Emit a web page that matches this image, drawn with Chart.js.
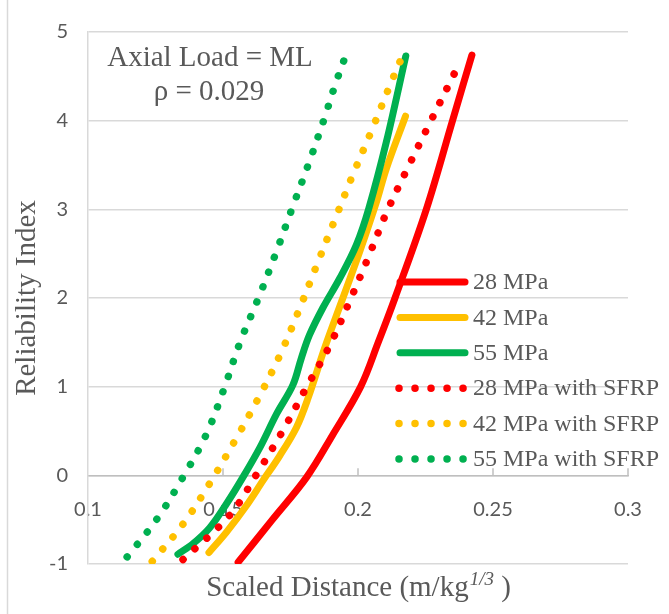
<!DOCTYPE html>
<html>
<head>
<meta charset="utf-8">
<script src="https://cdn.jsdelivr.net/npm/chart.js@4.4.1/dist/chart.umd.min.js"></script>
<style>
  html, body { margin: 0; padding: 0; background: #fff; }
  #wrap { width: 669px; height: 614px; }
</style>
</head>
<body>
<div id="wrap"><canvas id="myChart" width="669" height="614"></canvas></div>
<script>
// series labels and colours
const seriesNames = ['28 MPa', '42 MPa', '55 MPa', '28 MPa with SFRP', '42 MPa with SFRP', '55 MPa with SFRP'];
const seriesColors = ['#ff0000', '#ffc000', '#00b050', '#ff0000', '#ffc000', '#00b050'];

// scaled distance (x) vs reliability index (y)
const mpa28X = [0.1556, 0.1683, 0.1810, 0.1905, 0.2010, 0.2075, 0.2137, 0.2253, 0.2350, 0.2422];
const mpa28Y = [-0.98, -0.50, -0.02, 0.45, 1.0, 1.5, 2.0, 3.0, 4.0, 4.74];

const mpa42X = [0.1448, 0.1513, 0.1587, 0.1648, 0.1710, 0.1772, 0.1815, 0.1877, 0.1944, 0.2006, 0.2068, 0.2105, 0.2176];
const mpa42Y = [-0.87, -0.64, -0.34, -0.06, 0.22, 0.54, 0.87, 1.44, 2.0, 2.52, 3.08, 3.46, 4.05];

const mpa55X = [0.1333, 0.1389, 0.1451, 0.1513, 0.1574, 0.1636, 0.1698, 0.1759, 0.1790, 0.1820, 0.1870, 0.1932, 0.1994, 0.2040, 0.2105, 0.2177];
const mpa55Y = [-0.89, -0.77, -0.59, -0.32, -0.02, 0.31, 0.69, 1.02, 1.32, 1.58, 1.89, 2.22, 2.6, 3.01, 3.76, 4.73];

const sfrp28X = [0.1352, 0.1525, 0.1626, 0.1719, 0.1805, 0.1893, 0.1967, 0.2037, 0.2105, 0.2183, 0.2262, 0.2342, 0.2368];
const sfrp28Y = [-0.95, -0.45, 0.02, 0.49, 0.97, 1.45, 1.95, 2.45, 2.96, 3.46, 3.95, 4.44, 4.60];

const sfrp42X = [0.1238, 0.1352, 0.1451, 0.1544, 0.1631, 0.1710, 0.1781, 0.1847, 0.1914, 0.1981, 0.2052, 0.2120, 0.2166];
const sfrp42Y = [-0.97, -0.55, -0.09, 0.39, 0.87, 1.35, 1.86, 2.37, 2.88, 3.39, 3.9, 4.41, 4.74];

const sfrp55X = [0.1145, 0.1256, 0.1352, 0.1438, 0.1503, 0.1562, 0.1630, 0.1695, 0.1757, 0.1819, 0.1878, 0.1915, 0.1955];
const sfrp55Y = [-0.92, -0.49, -0.02, 0.46, 0.97, 1.49, 1.99, 2.5, 3.02, 3.53, 4.05, 4.4, 4.74];

const xTicksMin = 0.1, xTicksMax = 0.3, xStep = 0.05;
const yTicksMin = -1, yTicksMax = 5, yStep = 1;

const allX = [mpa28X, mpa42X, mpa55X, sfrp28X, sfrp42X, sfrp55X];
const allY = [mpa28Y, mpa42Y, mpa55Y, sfrp28Y, sfrp42Y, sfrp55Y];

const grey = '#595959';
const serif = '"Liberation Serif", "Times New Roman", serif';
const DOT = [0.01, 16];

const datasets = seriesNames.map((name, i) => {
  const dotted = i >= 3;
  return {
    label: name,
    data: allX[i].map((x, k) => ({ x: x, y: allY[i][k] })),
    showLine: true,
    borderColor: seriesColors[i],
    backgroundColor: seriesColors[i],
    borderWidth: dotted ? 7.5 : 7,
    borderDash: dotted ? DOT : [],
    borderCapStyle: 'round',
    borderJoinStyle: 'round',
    pointRadius: 0,
    tension: 0.35,
    order: 6 - i
  };
});

// titles, annotation, legend and border drawn on top
const extras = {
  id: 'extras',
  afterDraw(chart) {
    const ctx = chart.ctx;
    const xs = chart.scales.x, ys = chart.scales.y;
    const area = chart.chartArea;
    ctx.save();

    // outer border on the left
    ctx.strokeStyle = '#d9d9d9';
    ctx.lineWidth = 1.5;
    ctx.beginPath();
    ctx.moveTo(7.5, 0);
    ctx.lineTo(7.5, 614);
    ctx.stroke();

    // x tick marks on the axis at y = 0
    const y0 = ys.getPixelForValue(0);
    ctx.strokeStyle = '#bfbfbf';
    xs.ticks.forEach((t, i) => {
      if (i === 0) return;
      const px = xs.getPixelForValue(t.value);
      ctx.beginPath();
      ctx.moveTo(px, y0);
      ctx.lineTo(px, y0 - 7);
      ctx.stroke();
    });

    ctx.fillStyle = grey;
    ctx.textAlign = 'center';
    ctx.textBaseline = 'middle';
    ctx.font = '29px ' + serif;
    ctx.fillText('Axial Load = ML', 210, 58);
    ctx.fillText('\u03c1 = 0.029', 209, 92);

    // y title
    ctx.save();
    ctx.translate(27, 298);
    ctx.rotate(-Math.PI / 2);
    ctx.fillText('Reliability Index', 0, 0);
    ctx.restore();

    // x title with superscript
    const main = 'Scaled Distance (m/kg';
    const sup = '1/3';
    const tail = ' )';
    ctx.textAlign = 'left';
    ctx.textBaseline = 'alphabetic';
    ctx.font = '29px ' + serif;
    const wMain = ctx.measureText(main).width;
    const wTail = ctx.measureText(tail).width;
    ctx.font = 'italic 19px ' + serif;
    const wSup = ctx.measureText(sup).width;
    let sx = (area.left + area.right) / 2 - (wMain + wSup + wTail) / 2;
    const base = 596;
    ctx.font = '29px ' + serif;
    ctx.fillText(main, sx, base);
    sx += wMain + 1;
    ctx.font = 'italic 19px ' + serif;
    ctx.fillText(sup, sx, base - 11);
    sx += wSup;
    ctx.font = '29px ' + serif;
    ctx.fillText(tail, sx, base);

    // legend
    const rowY = 282, rowStep = 35.4;
    ctx.textBaseline = 'middle';
    ctx.font = '24px ' + serif;
    chart.data.datasets.forEach((ds, i) => {
      const y = rowY + i * rowStep;
      ctx.save();
      ctx.strokeStyle = ds.borderColor;
      ctx.lineWidth = ds.borderWidth;
      ctx.lineCap = 'round';
      ctx.setLineDash(ds.borderDash);
      ctx.beginPath();
      if (ds.borderDash.length) {
        ctx.moveTo(399, y);
        ctx.lineTo(463.5, y);
      } else {
        ctx.moveTo(400, y);
        ctx.lineTo(465, y);
      }
      ctx.stroke();
      ctx.restore();
      ctx.fillStyle = grey;
      ctx.fillText(ds.label, 473, y + 1);
    });

    ctx.restore();
  }
};

const tickFont = { family: 'Lato, "Open Sans", sans-serif', size: 20 };

new Chart(document.getElementById('myChart'), {
  type: 'scatter',
  data: { datasets: datasets },
  options: {
    responsive: false,
    animation: false,
    layout: { padding: { top: 30, right: 41, bottom: 50, left: 0 } },
    plugins: {
      legend: { display: false },
      tooltip: { enabled: false }
    },
    scales: {
      x: {
        type: 'linear',
        position: { y: 0 },
        min: xTicksMin,
        max: xTicksMax,
        ticks: {
          stepSize: xStep, padding: 22, color: grey, font: tickFont,
          callback: v => String(Number(v.toFixed(2)))
        },
        grid: { display: false, drawTicks: false },
        border: { display: true, color: '#bfbfbf', width: 1.5 }
      },
      y: {
        min: yTicksMin,
        max: yTicksMax,
        ticks: { stepSize: yStep, padding: 20, color: grey, font: tickFont },
        grid: { color: '#d9d9d9', lineWidth: 1.5, drawTicks: false },
        border: { color: '#d9d9d9', width: 1.5 },
        afterFit(scale) { scale.width = 88; }
      }
    }
  },
  plugins: [extras]
});
</script>
</body>
</html>
